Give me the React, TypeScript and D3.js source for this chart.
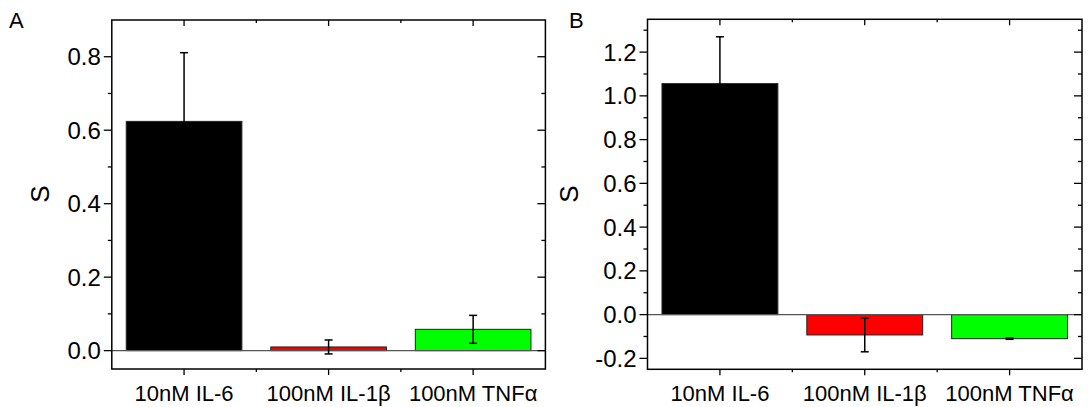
import * as d3 from "d3";

const categories = ["10nM IL-6", "100nM IL-1β", "100nM TNFα"];
const barColors = ["#000000", "#ff0000", "#00ff00"];

// panel A
const valuesA = [0.624, 0.010, 0.058];
const errorsA = [0.187, 0.019, 0.038];
const yTicksA = [0, 0.2, 0.4, 0.6, 0.8];
const yMinorA = [0.1, 0.3, 0.5, 0.7];

// panel B
const valuesB = [1.056, -0.093, -0.110];
const errorsB = [0.214, 0.077, 0.003];
const yTicksB = [-0.2, 0, 0.2, 0.4, 0.6, 0.8, 1.0, 1.2];
const yMinorB = [-0.1, 0.1, 0.3, 0.5, 0.7, 0.9, 1.1, 1.3];

const font = "'Liberation Sans', Arial, sans-serif";

type PanelProps = {
  letter: string;
  letterX: number;
  labelX: number;
  x0: number;
  x1: number;
  y0: number;
  y1: number;
  domain: [number, number];
  values: number[];
  errors: number[];
  ticks: number[];
  minor: number[];
};

const Panel = (p: PanelProps) => {
  const x = d3.scaleBand<string>().domain(categories).range([p.x0, p.x1]).paddingInner(0.2).paddingOuter(0.1);
  const y = d3.scaleLinear().domain(p.domain).range([p.y1, p.y0]);
  const step = x.step();
  const bounds = categories.slice(1).map((c) => (x(c) as number) - (step * 0.1));
  const centers = categories.map((c) => (x(c) as number) + x.bandwidth() / 2);

  return (
    <g>
      <text x={p.letterX} y={28} fontSize={22} fontFamily={font}>{p.letter}</text>
      <text transform={`translate(${p.labelX},194) rotate(-90)`} textAnchor="middle" dominantBaseline="central" fontSize={26} fontFamily={font}>S</text>

      {/* bars */}
      {p.values.map((v, i) => (
        <rect key={i} x={x(categories[i])} width={x.bandwidth()}
          y={y(Math.max(0, v))} height={Math.abs(y(v) - y(0))}
          fill={barColors[i]} stroke="#222" strokeWidth={1} />
      ))}

      {/* zero line */}
      <line x1={p.x0} x2={p.x1} y1={y(0)} y2={y(0)} stroke="#555" strokeWidth={1.3} />

      {/* error bars */}
      {p.values.map((v, i) => {
        const cx = centers[i];
        const hi = y(v + p.errors[i]);
        const lo = y(v - p.errors[i]);
        return (
          <g key={i} stroke="#000" strokeWidth={1.5}>
            <line x1={cx} x2={cx} y1={hi} y2={lo} />
            <line x1={cx - 4} x2={cx + 4} y1={hi} y2={hi} />
            <line x1={cx - 4} x2={cx + 4} y1={lo} y2={lo} />
          </g>
        );
      })}

      {/* y ticks left (out) and right (in) */}
      {p.ticks.map((t) => (
        <g key={"t" + t} stroke="#000" strokeWidth={1.3}>
          <line x1={p.x0 - 8} x2={p.x0} y1={y(t)} y2={y(t)} />
          <line x1={p.x1 - 8} x2={p.x1} y1={y(t)} y2={y(t)} />
        </g>
      ))}
      {p.minor.map((t) => (
        <g key={"m" + t} stroke="#000" strokeWidth={1.3}>
          <line x1={p.x0 - 4} x2={p.x0} y1={y(t)} y2={y(t)} />
          <line x1={p.x1 - 4} x2={p.x1} y1={y(t)} y2={y(t)} />
        </g>
      ))}
      {p.ticks.map((t) => (
        <text key={"l" + t} x={p.x0 - 11} y={y(t)} textAnchor="end" dominantBaseline="central"
          fontSize={24} fontFamily={font}>{t.toFixed(1)}</text>
      ))}

      {/* x ticks bottom (out) and top (in) */}
      {centers.map((c, i) => (
        <g key={"c" + i} stroke="#000" strokeWidth={1.3}>
          <line x1={c} x2={c} y1={p.y1} y2={p.y1 + 6} />
          <line x1={c} x2={c} y1={p.y0} y2={p.y0 + 6} />
        </g>
      ))}
      {bounds.map((b, i) => (
        <g key={"b" + i} stroke="#000" strokeWidth={1.3}>
          <line x1={b} x2={b} y1={p.y1} y2={p.y1 + 3} />
          <line x1={b} x2={b} y1={p.y0} y2={p.y0 + 3} />
        </g>
      ))}
      {categories.map((c, i) => (
        <text key={c} x={centers[i]} y={401} textAnchor="middle" fontSize={22} fontFamily={font}>{c}</text>
      ))}

      <rect x={p.x0} y={p.y0} width={p.x1 - p.x0} height={p.y1 - p.y0} fill="none" stroke="#000" strokeWidth={1.5} />
    </g>
  );
};

export default function App() {
  return (
    <svg width={1088} height={407} style={{ position: "absolute", left: 0, top: 0, background: "#fff" }}>
      <Panel letter="A" letterX={9} labelX={40} x0={111.8} x1={545.4} y0={20} y1={369}
        domain={[-0.05, 0.9]} values={valuesA} errors={errorsA} ticks={yTicksA} minor={yMinorA} />
      <Panel letter="B" letterX={569} labelX={569} x0={647.5} x1={1082} y0={19.3} y1={369.3}
        domain={[-0.25, 1.35]} values={valuesB} errors={errorsB} ticks={yTicksB} minor={yMinorB} />
    </svg>
  );
}
